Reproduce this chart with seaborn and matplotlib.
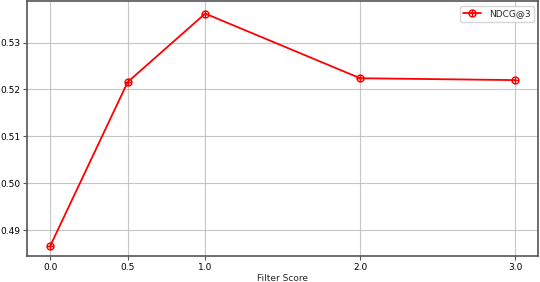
import numpy as np
import pandas as pd
import matplotlib
matplotlib.use("Agg")
import matplotlib.pyplot as plt
from matplotlib.path import Path
import seaborn as sns

# --- Data ---
filter_scores = [0.0, 0.5, 1.0, 2.0, 3.0]
ndcg3 = [0.4866, 0.5216, 0.5362, 0.5224, 0.5220]

df = pd.DataFrame({"Filter Score": filter_scores, "NDCG@3": ndcg3})

# circle with a cross inside (like an oplus marker)
circle = Path.unit_circle()
cross = Path([(-1, 0), (1, 0), (0, -1), (0, 1)],
             [Path.MOVETO, Path.LINETO, Path.MOVETO, Path.LINETO])
oplus = Path.make_compound_path(circle, cross)

sns.set_style("ticks")
plt.rcParams['font.family'] = ['DejaVu Sans']

fig, ax = plt.subplots(figsize=(5.4, 2.82), dpi=100)
sns.lineplot(data=df, x="Filter Score", y="NDCG@3", ax=ax, color="red",
             marker=oplus, markersize=5, markerfacecolor="none",
             markeredgecolor="red", markeredgewidth=1.0, linewidth=1.3,
             label="NDCG@3")

ax.set_xticks(filter_scores)
ax.set_xticklabels([f"{v:.1f}" for v in filter_scores])
ax.set_yticks([0.49, 0.50, 0.51, 0.52, 0.53])
ax.set_ylim(0.4845, 0.5388)
ax.set_xlim(-0.15, 3.15)
ax.tick_params(labelsize=6.5, length=3, pad=2, color="#555555", labelcolor="black")
ax.set_xlabel("Filter Score", fontsize=6.5, labelpad=2)
ax.set_ylabel("")
ax.grid(True, color="#b8b8b8", linewidth=0.8, alpha=0.8)
for s in ax.spines.values():
    s.set_color("#555555")
    s.set_linewidth(1.2)
ax.legend(loc="upper right", fontsize=6.5, frameon=True, framealpha=0.8)

plt.subplots_adjust(left=0.05, right=0.997, top=0.995, bottom=0.093)
plt.savefig("out.png", dpi=100)
